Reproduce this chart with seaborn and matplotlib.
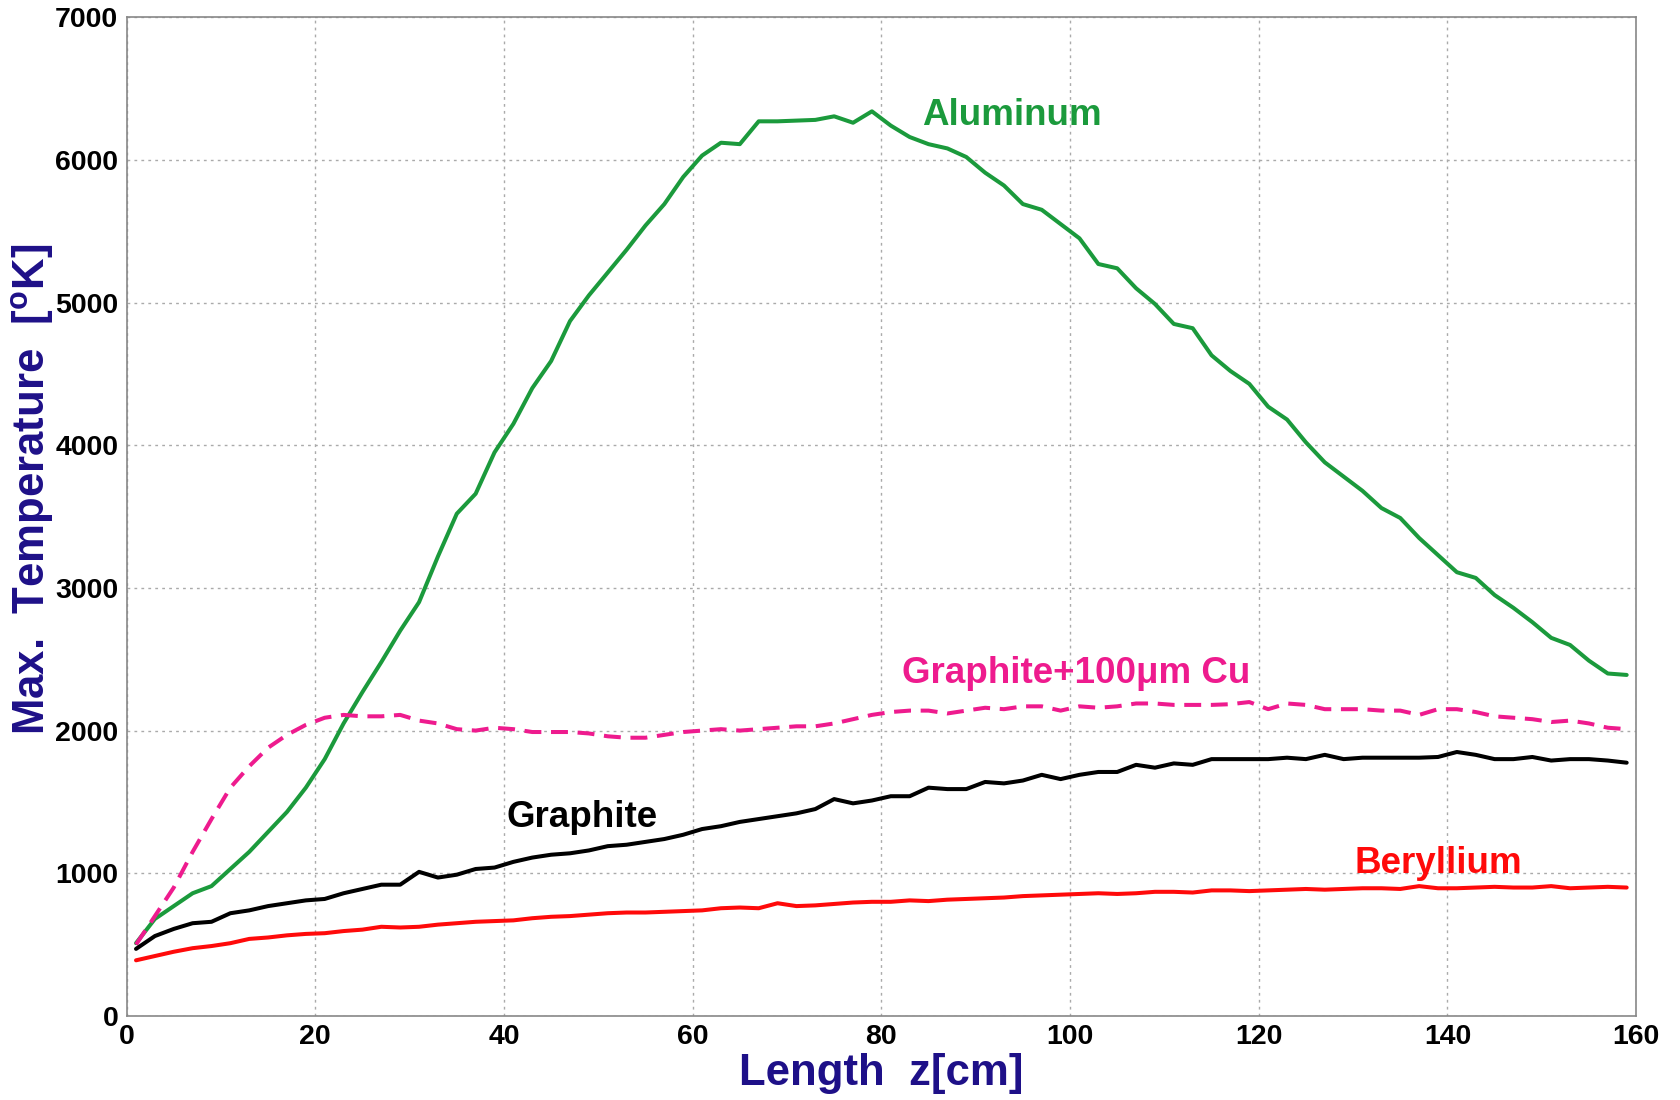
import numpy as np
import pandas as pd
import matplotlib
matplotlib.use("Agg")
import matplotlib.pyplot as plt
import seaborn as sns
from matplotlib.ticker import MultipleLocator

z = list(range(1, 160, 2))

aluminum = [510, 680, 770, 860, 910, 1030, 1150, 1290, 1430, 1600,
            1800, 2050, 2270, 2480, 2700, 2900, 3220, 3520, 3660, 3950,
            4150, 4400, 4590, 4870, 5050, 5210, 5370, 5540, 5690, 5880,
            6030, 6120, 6110, 6270, 6270, 6275, 6280, 6305, 6260, 6340,
            6240, 6160, 6110, 6080, 6020, 5910, 5820, 5690, 5650, 5550,
            5450, 5270, 5240, 5100, 4990, 4850, 4820, 4630, 4520, 4430,
            4270, 4180, 4020, 3880, 3780, 3680, 3560, 3490, 3350, 3230,
            3110, 3070, 2950, 2860, 2760, 2650, 2600, 2490, 2400, 2390]

graphite_cu = [500, 700, 900, 1150, 1380, 1600, 1750, 1880, 1970, 2040,
               2090, 2110, 2100, 2100, 2110, 2070, 2050, 2010, 2000, 2020,
               2010, 1990, 1990, 1990, 1980, 1960, 1950, 1950, 1970, 1990,
               2000, 2010, 2000, 2010, 2020, 2030, 2030, 2050, 2080, 2110,
               2130, 2140, 2140, 2120, 2140, 2160, 2150, 2170, 2170, 2140,
               2170, 2160, 2170, 2190, 2190, 2180, 2180, 2180, 2185, 2200,
               2150, 2190, 2180, 2150, 2150, 2150, 2140, 2140, 2110, 2150,
               2150, 2130, 2100, 2090, 2080, 2060, 2070, 2050, 2020, 2010]

graphite = [470, 560, 610, 650, 660, 720, 740, 770, 790, 810,
            820, 860, 890, 920, 920, 1010, 970, 990, 1030, 1040,
            1080, 1110, 1130, 1140, 1160, 1190, 1200, 1220, 1240, 1270,
            1310, 1330, 1360, 1380, 1400, 1420, 1450, 1520, 1490, 1510,
            1540, 1540, 1600, 1590, 1590, 1640, 1630, 1650, 1690, 1660,
            1690, 1710, 1710, 1760, 1740, 1770, 1760, 1800, 1800, 1800,
            1800, 1810, 1800, 1830, 1800, 1810, 1810, 1810, 1810, 1815,
            1850, 1830, 1800, 1800, 1815, 1790, 1800, 1800, 1790, 1775]

beryllium = [390, 420, 450, 475, 490, 510, 540, 550, 565, 575,
             580, 595, 605, 625, 620, 625, 640, 650, 660, 665,
             670, 685, 695, 700, 710, 720, 725, 725, 730, 735,
             740, 755, 760, 755, 790, 770, 775, 785, 795, 800,
             800, 810, 805, 815, 820, 825, 830, 840, 845, 850,
             855, 860, 855, 860, 870, 870, 865, 880, 880, 875,
             880, 885, 890, 885, 890, 895, 895, 890, 910, 895,
             895, 900, 905, 900, 900, 910, 895, 900, 905, 900]

series_names = ["Aluminum", "Graphite+100μm Cu", "Graphite", "Beryllium"]
series_values = [aluminum, graphite_cu, graphite, beryllium]
colors = ["#1b9a3c", "#ee1b8e", "#000000", "#ff0a0a"]
label_pos = [(93.8, 6310), (100.6, 2400), (48.3, 1390), (139, 1070)]

x_ticks = [0, 20, 40, 60, 80, 100, 120, 140, 160]
y_ticks = [0, 1000, 2000, 3000, 4000, 5000, 6000, 7000]

sns.set_style("white")
plt.rcParams["font.family"] = ["Liberation Sans", "DejaVu Sans"]
plt.rcParams["mathtext.fontset"] = "custom"
plt.rcParams["mathtext.bf"] = "Liberation Sans:bold"
plt.rcParams["mathtext.rm"] = "Liberation Sans"

fig = plt.figure(figsize=(16.81, 11.0), dpi=100)
ax = fig.add_axes([0.0753, 0.0764, 0.898, 0.908])

for name, vals, col in zip(series_names, series_values, colors):
    df = pd.DataFrame({"z": z, "T": vals})
    sns.lineplot(data=df, x="z", y="T", ax=ax, color=col, linewidth=2.9,
                 linestyle="--" if "Cu" in name else "-")
for line in ax.get_lines():
    if line.get_linestyle() == "--":
        line.set_dashes([4.2, 2.4])

for name, (lx, ly), col in zip(series_names, label_pos, colors):
    ax.text(lx, ly, name, color=col, fontsize=26.5, fontweight="bold",
            ha="center", va="center")

ax.set_xlim(0, 160)
ax.set_ylim(0, 7000)
ax.set_xticks(x_ticks)
ax.set_yticks(y_ticks)
ax.xaxis.set_minor_locator(MultipleLocator(5))
ax.yaxis.set_minor_locator(MultipleLocator(200))
ax.tick_params(axis="both", which="major", direction="in", length=10, width=1,
               color="#777777", labelsize=20.5, labelcolor="black", pad=6,
               top=False, right=False)
ax.tick_params(axis="both", which="minor", direction="in", length=6, width=1,
               color="#777777", top=False, right=False)
for lab in ax.get_xticklabels() + ax.get_yticklabels():
    lab.set_fontweight("bold")

ax.grid(True, which="major", linestyle=(0, (2, 3)), color="#aaaaaa", linewidth=1)
for s in ax.spines.values():
    s.set_color("#888888")
    s.set_linewidth(1.2)

navy = "#1e1088"
ax.set_xlabel("Length  z[cm]", fontsize=31.5, fontweight="bold", color=navy, labelpad=2)
ax.set_ylabel(r"Max.  Temperature  [$^{\mathbf{o}}$K]", fontsize=31.5, fontweight="bold",
              color=navy)
ax.yaxis.set_label_coords(-0.047, 0.527)

fig.savefig("out.png", dpi=100)
